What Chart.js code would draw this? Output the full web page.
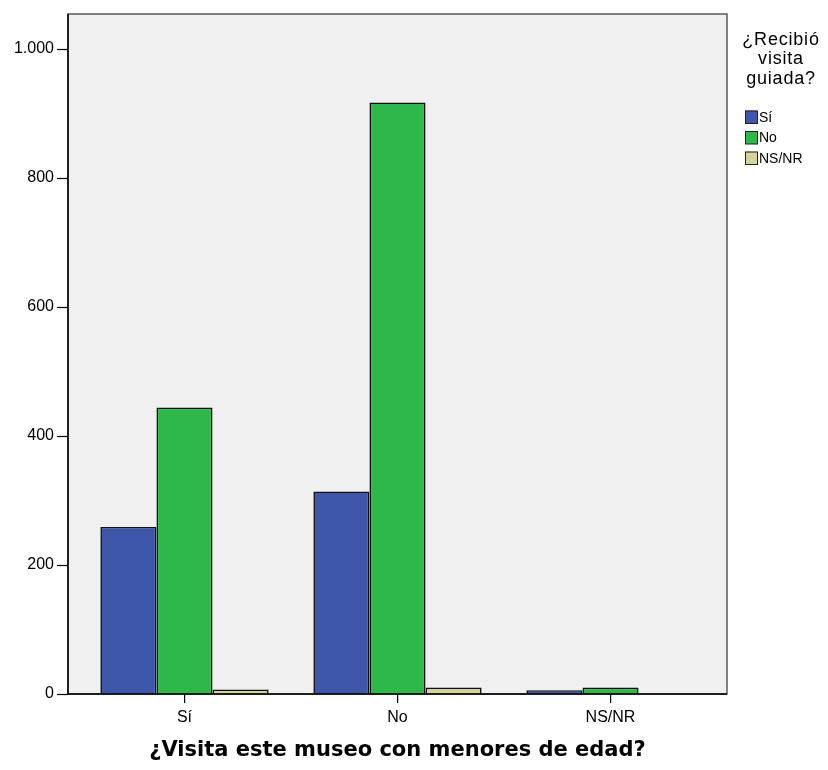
<!DOCTYPE html>
<html lang="es">
<head>
<meta charset="UTF-8">
<title>¿Visita este museo con menores de edad?</title>
<style>
  html, body { margin: 0; padding: 0; background: #fff; }
  #myChart { display: block; }
</style>
</head>
<body>
<canvas id="myChart" width="828" height="770"></canvas>

<script src="https://cdn.jsdelivr.net/npm/chart.js"></script>
<script>
// data
const categories = ['Sí', 'No', 'NS/NR'];
const seriesLabels = ['Sí', 'No', 'NS/NR'];
const valuesSi = [259, 314, 6];
const valuesNo = [444, 917, 10];
const valuesNsnr = [7, 10, 0];
const yTicks = [0, 200, 400, 600, 800, 1000];
const legendTitle = ['¿Recibió', 'visita', 'guiada?'];
const xTitle = '¿Visita este museo con menores de edad?';

const colors = ['#3e57ab', '#2fb84a', '#d6d39b'];
const PAD = 10; // gap between the frame and the first / last category

// grey plot box, frame, y axis ticks and the legend
const framePlugin = {
  id: 'frame',
  beforeDatasetsDraw(chart) {
    const { ctx, chartArea: a } = chart;
    ctx.save();
    ctx.fillStyle = '#f0f0f0';
    ctx.fillRect(a.left - PAD, a.top, a.right - a.left + 2 * PAD, a.bottom - a.top);
    ctx.restore();
  },
  afterDatasetsDraw(chart) {
    const { ctx, chartArea: a, scales } = chart;
    const l = a.left - PAD, r = a.right + PAD;
    ctx.save();
    ctx.strokeStyle = '#5a5a5a';
    ctx.lineWidth = 1.5;
    ctx.strokeRect(l, a.top, r - l, a.bottom - a.top);
    ctx.strokeStyle = '#000';
    ctx.beginPath();
    ctx.moveTo(l, a.top);
    ctx.lineTo(l, a.bottom);
    ctx.lineTo(r, a.bottom);
    ctx.stroke();

    // y tick marks
    ctx.lineWidth = 1.2;
    yTicks.forEach(v => {
      const y = Math.round(scales.y.getPixelForValue(v)) + 0.5;
      ctx.beginPath();
      ctx.moveTo(l - 11, y);
      ctx.lineTo(l, y);
      ctx.stroke();
    });

    // legend
    ctx.fillStyle = '#000';
    ctx.font = '18px "Liberation Sans", Arial, sans-serif';
    ctx.letterSpacing = '0.8px';
    ctx.textAlign = 'center';
    ctx.textBaseline = 'middle';
    legendTitle.forEach((t, i) => ctx.fillText(t, 781, 40 + i * 19.5));
    ctx.letterSpacing = '0px';
    ctx.font = '14px "Liberation Sans", Arial, sans-serif';
    ctx.textAlign = 'left';
    chart.data.datasets.forEach((ds, i) => {
      const y = 117 + i * 20.5;
      ctx.fillStyle = ds.backgroundColor;
      ctx.fillRect(745, y - 6.5, 12, 13);
      ctx.strokeStyle = '#222';
      ctx.lineWidth = 1;
      ctx.strokeRect(745.5, y - 6, 12, 12.5);
      ctx.fillStyle = '#000';
      ctx.fillText(ds.label, 759, y + 1);
    });
    ctx.restore();
  }
};

const ctx = document.getElementById('myChart').getContext('2d');
const chart = new Chart(ctx, {
  type: 'bar',
  data: {
    labels: categories,
    datasets: [valuesSi, valuesNo, valuesNsnr].map((d, i) => ({
      label: seriesLabels[i],
      data: d,
      backgroundColor: colors[i],
      borderColor: '#111',
      borderWidth: 1.6,
      borderSkipped: 'bottom',
      categoryPercentage: 0.79,
      barPercentage: 1.0
    }))
  },
  options: {
    responsive: false,
    devicePixelRatio: 1,
    animation: false,
    layout: { padding: { top: 14, right: 111, left: 0, bottom: 0 } },
    plugins: {
      legend: { display: false },
      tooltip: { enabled: false }
    },
    scales: {
      x: {
        offset: true,
        afterFit(s) { s.height = 76; s.paddingLeft = 0; s.paddingRight = 0; },
        border: { display: false },
        grid: { display: true, offset: false, drawOnChartArea: false, tickLength: 9, color: '#000', lineWidth: 1.2 },
        ticks: {
          color: '#000',
          padding: 5,
          font: { family: '"Liberation Sans", Arial, sans-serif', size: 16 }
        },
        title: {
          display: true,
          text: xTitle,
          color: '#000',
          padding: { top: 0, bottom: 7 },
          font: { family: '"DejaVu Sans", Verdana, sans-serif', size: 21, weight: 'bold' }
        }
      },
      y: {
        min: 0,
        max: 1054,
        afterFit(s) { s.width = 78; s.paddingTop = 0; s.paddingBottom = 0; },
        border: { display: false },
        grid: { display: false },
        afterBuildTicks(s) { s.ticks = yTicks.map(v => ({ value: v })); },
        ticks: {
          color: '#000',
          padding: 16,
          font: { family: '"Liberation Sans", Arial, sans-serif', size: 16 },
          callback: v => v.toLocaleString('de-DE')
        }
      }
    }
  },
  plugins: [framePlugin]
});
</script>
</body>
</html>
